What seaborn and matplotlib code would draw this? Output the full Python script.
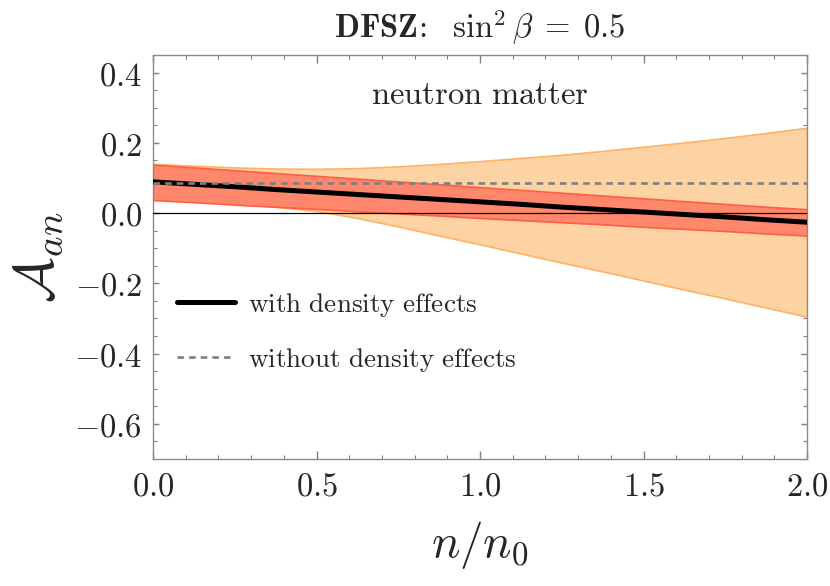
import numpy as np
import pandas as pd
import matplotlib
matplotlib.use("Agg")
import matplotlib.pyplot as plt
from matplotlib.ticker import MultipleLocator, FuncFormatter
import seaborn as sns

# values
density = [0.0, 0.125, 0.25, 0.375, 0.5, 0.625, 0.75, 0.875, 1.0,
           1.125, 1.25, 1.375, 1.5, 1.625, 1.75, 1.875, 2.0]
with_density = [0.089, 0.082, 0.075, 0.067, 0.060, 0.053, 0.046, 0.039, 0.032,
                0.025, 0.017, 0.010, 0.003, -0.004, -0.011, -0.019, -0.026]
without_density = [0.087] * 17
red_upper = [0.138, 0.130, 0.122, 0.114, 0.106, 0.098, 0.090, 0.082, 0.074,
             0.066, 0.058, 0.050, 0.042, 0.034, 0.026, 0.018, 0.011]
red_lower = [0.037, 0.031, 0.024, 0.018, 0.012, 0.005, -0.001, -0.007, -0.014,
             -0.020, -0.026, -0.032, -0.039, -0.045, -0.051, -0.058, -0.064]
orange_upper = [0.140, 0.135, 0.130, 0.127, 0.126, 0.128, 0.133, 0.140, 0.148,
                0.157, 0.166, 0.177, 0.189, 0.201, 0.214, 0.228, 0.243]
orange_lower = [0.040, 0.035, 0.028, 0.018, 0.006, -0.014, -0.038, -0.064, -0.089,
                -0.115, -0.141, -0.166, -0.192, -0.218, -0.243, -0.269, -0.295]

sns.set_theme(style="ticks")
plt.rcParams["mathtext.fontset"] = "cm"
plt.rcParams["font.family"] = ["DejaVu Serif"]

df = pd.DataFrame({"n": density, "with": with_density, "without": without_density})

fig = plt.figure(figsize=(8.3, 5.86), dpi=100)
ax = fig.add_axes([153 / 830, 1 - 459 / 586, 654 / 830, 404 / 586])

ax.fill_between(density, orange_lower, orange_upper, facecolor="#FDD3A3",
                edgecolor="#FFB266", lw=1.2, zorder=1)
ax.fill_between(density, red_lower, red_upper, facecolor="#FF876B",
                edgecolor="#FF5E45", lw=1.2, zorder=2)
ax.axhline(0, color="black", lw=0.9, zorder=3)

sns.lineplot(data=df, x="n", y="without", ax=ax, color="#7F7F7F", lw=1.9,
             linestyle=(0, (2.5, 1.9)), zorder=5,
             label=r"$\mathrm{without\ density\ effects}$")
sns.lineplot(data=df, x="n", y="with", ax=ax, color="black", lw=3.6, zorder=4,
             label=r"$\mathrm{with\ density\ effects}$")

ax.set_xlim(0, 2)
ax.set_ylim(-0.7, 0.45)

ax.xaxis.set_major_locator(MultipleLocator(0.5))
ax.xaxis.set_minor_locator(MultipleLocator(0.1))
ax.yaxis.set_major_locator(MultipleLocator(0.2))
ax.yaxis.set_minor_locator(MultipleLocator(0.05))
fmt = FuncFormatter(lambda v, p: f"${v:.1f}$" if abs(v) > 1e-9 else "$0.0$")
ax.xaxis.set_major_formatter(fmt)
ax.yaxis.set_major_formatter(fmt)

ax.tick_params(which="both", direction="in", top=True, right=True, color="#808080",
               labelsize=23.5, pad=8)
ax.tick_params(axis="x", which="major", length=5.8, width=1.0)
ax.tick_params(axis="x", which="minor", length=2.9, width=0.8)
ax.tick_params(axis="y", which="major", length=4.0, width=1.0)
ax.tick_params(axis="y", which="minor", length=2.9, width=0.8)
for s in ax.spines.values():
    s.set_color("#8C8C8C")
    s.set_linewidth(1.0)

ax.set_xlabel(r"$n/n_0$", fontsize=34, labelpad=12)
ax.set_ylabel(r"$\mathcal{A}_{an}$", fontsize=40, labelpad=6)
ax.set_title(r"$\mathbf{DFSZ\!:}\ \ \sin^2\beta\;=\;0.5$", fontsize=23.5, pad=12)

ax.text(0.5, 0.879, r"$\mathrm{neutron\ matter}$", fontsize=23.5, ha="center",
        va="baseline", transform=ax.transAxes)

h, l = ax.get_legend_handles_labels()
ax.legend(h[::-1], l[::-1], loc="center left", bbox_to_anchor=(0.037, 0.314),
          frameon=False, fontsize=19.6, handlelength=2.13, handletextpad=0.48,
          labelspacing=1.0, borderaxespad=0, borderpad=0)

fig.savefig("out.png", dpi=100)
